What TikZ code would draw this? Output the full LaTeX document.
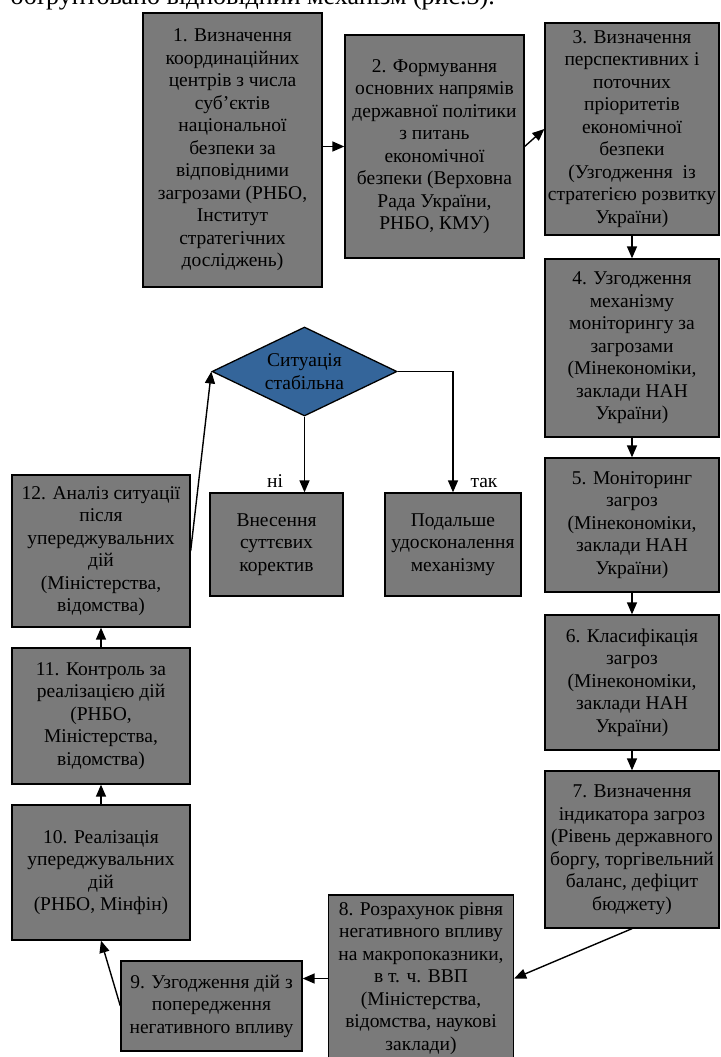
\documentclass[tikz,border=0pt]{standalone}
\usepackage{fontspec}
\setmainfont{Liberation Serif}
\usetikzlibrary{arrows.meta,shapes.geometric}
\definecolor{boxgray}{RGB}{122,122,122}
\definecolor{decblue}{RGB}{52,101,154}
\newcommand{\boxfont}{\fontsize{19.5}{22.5}\selectfont}
\newcommand{\bodyfont}{\fontsize{26}{30}\selectfont}

\begin{document}
\begin{tikzpicture}[x=1pt,y=-1pt,
  stage/.style={draw=black, fill=boxgray, line width=1.3pt, align=center,
    inner sep=0pt, font=\boxfont},
  decision/.style={shape=diamond, draw=black, fill=decblue, line width=1.3pt,
    inner sep=0pt},
  arr/.style={line width=1.4pt, -{Triangle[length=12pt,width=10pt]}},
  lbl/.style={font=\boxfont, inner sep=0pt, anchor=base}]
\useasboundingbox (0,0) rectangle (720,1057);

% closing words of the preceding paragraph
\node[font=\bodyfont, anchor=base east, inner sep=0pt] (intro) at (495,5)
  {обґрунтовано відповідний механізм (рис.3).};

% top row
\node[stage, minimum width=179pt, minimum height=274pt] (b1) at (232.5,150)
  {1. Визначення\\координаційних\\центрів з числа\\суб’єктів\\національної\\безпеки за\\відповідними\\загрозами (РНБО,\\Інститут\\стратегічних\\досліджень)};
\node[stage, minimum width=179pt, minimum height=223pt] (b2) at (434.5,146.5)
  {2. Формування\\основних напрямів\\державної політики\\з питань\\економічної\\безпеки (Верховна\\Рада України,\\РНБО, КМУ)};
\node[stage, minimum width=174pt, minimum height=212pt] (b3) at (632,129)
  {3. Визначення\\перспективних і\\поточних\\пріоритетів\\економічної\\безпеки\\(Узгодження\ \ із\\стратегією розвитку\\України)};

% right column
\node[stage, minimum width=174pt, minimum height=178pt] (b4) at (632,348)
  {4. Узгодження\\механізму\\моніторингу за\\загрозами\\(Мінекономіки,\\заклади НАН\\України)};
\node[stage, minimum width=174pt, minimum height=134pt] (b5) at (632,525)
  {5. Моніторинг\\загроз\\(Мінекономіки,\\заклади НАН\\України)};
\node[stage, minimum width=174pt, minimum height=135pt] (b6) at (632,682.5)
  {6. Класифікація\\загроз\\(Мінекономіки,\\заклади НАН\\України)};
\node[stage, minimum width=174pt, minimum height=157pt] (b7) at (632,849.5)
  {7. Визначення\\індикатора загроз\\(Рівень державного\\боргу, торгівельний\\баланс, дефіцит\\бюджету)};

% bottom row
\node[stage, minimum width=185pt, minimum height=167pt] (b8) at (421,978.5)
  {8. Розрахунок рівня\\негативного впливу\\на макропоказники,\\в т. ч. ВВП\\(Міністерства,\\відомства, наукові\\заклади)};
\node[stage, minimum width=181pt, minimum height=90pt] (b9) at (211.5,1006)
  {9. Узгодження дій з\\попередження\\негативного впливу};

% left column
\node[stage, minimum width=178pt, minimum height=135pt] (b10) at (101,872.5)
  {10. Реалізація\\упереджувальних\\дій\\(РНБО, Мінфін)};
\node[stage, minimum width=178pt, minimum height=136pt] (b11) at (101,716)
  {11. Контроль за\\реалізацією дій\\(РНБО,\\Міністерства,\\відомства)};
\node[stage, minimum width=178pt, minimum height=152pt] (b12) at (101,551)
  {12. Аналіз ситуації\\після\\упереджувальних\\дій\\(Міністерства,\\відомства)};

% decision and its outcomes
\node[decision, minimum width=185pt, minimum height=89pt] (dec) at (304.5,371.5) {};
\node[font=\boxfont, align=center, inner sep=0pt] (dectext) at (dec.center)
  {Ситуація\\стабільна};
\node[stage, minimum width=133pt, minimum height=103pt] (fix) at (276.5,544.5)
  {Внесення\\суттєвих\\коректив};
\node[stage, minimum width=136pt, minimum height=103pt] (imp) at (453,544.5)
  {Подальше\\удосконалення\\механізму};

% connectors
\draw[arr] (b1.east |- b2.west) -- (b2.west);
\draw[arr] (b2.east) -- (b3.west);
\draw[arr] (b3.south) -- (b4.north);
\draw[arr] (b4.south) -- (b5.north);
\draw[arr] (b5.south) -- (b6.north);
\draw[arr] (b6.south) -- (b7.north);
\draw[arr] (b7.south) -- (b8.east);
\draw[arr] (b8.west) -- (b9.east |- b8.west);
\draw[arr] (b9.west) -- (b10.south);
\draw[arr] (b10.north) -- (b11.south);
\draw[arr] (b11.north) -- (b12.south);
\draw[arr] (b12.east) -- (dec.west);
\draw[arr] (dec.south) -- (dec.south |- fix.north);
\draw[arr] (dec.east) -| (imp.north);

% branch labels
\node[lbl] (no) at (275,487) {ні};
\node[lbl] (yes) at (484,487) {так};
\end{tikzpicture}
\end{document}
